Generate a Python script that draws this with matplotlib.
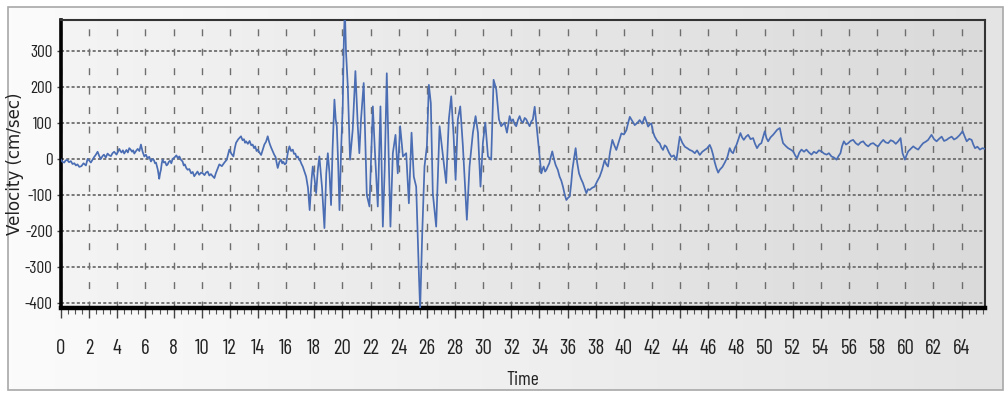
import numpy as np
import matplotlib
matplotlib.use("Agg")
import matplotlib.pyplot as plt
from matplotlib.colors import LinearSegmentedColormap
from matplotlib.patches import Rectangle
from matplotlib.ticker import MultipleLocator

# ---- data (time s, velocity cm/s) ----
pre_event = [
    (0.00, -2), (0.10, -8), (0.23, -10), (0.33, -4), (0.45, -3), (0.57, -9), (0.70, -6), (0.82, -14),
    (0.95, -12), (1.06, -18), (1.17, -15), (1.30, -22), (1.45, -20), (1.60, -12), (1.77, -18), (1.89, 0),
    (2.00, -4), (2.12, -10), (2.24, -2), (2.35, 5), (2.48, 12), (2.60, 20), (2.72, 8), (2.83, 0),
    (2.95, 8), (3.05, 12), (3.18, 4), (3.31, 15), (3.43, 10), (3.55, 8), (3.66, 16), (3.78, 20),
    (3.95, 12), (4.14, 28), (4.22, 22), (4.30, 18), (4.40, 24), (4.49, 15), (4.57, 20), (4.65, 25),
    (4.75, 18), (4.85, 30), (4.95, 26), (5.05, 20), (5.13, 24), (5.21, 15), (5.33, 22), (5.45, 28),
    (5.57, 22), (5.68, 40), (5.80, 20), (5.92, 7), (6.03, 12), (6.15, 2), (6.27, 6), (6.39, -7),
    (6.50, 0), (6.60, -3), (6.68, -12), (6.75, -10), (6.88, -30), (6.98, -55), (7.04, -40), (7.10, -30),
    (7.16, -12), (7.22, -2), (7.31, -10), (7.40, -8), (7.50, -18), (7.58, -15), (7.66, -8), (7.75, -5),
    (7.84, -12), (7.93, 0), (8.06, 4), (8.20, 10), (8.30, 2), (8.41, 7), (8.52, -2), (8.64, -7),
    (8.72, -18), (8.80, -15), (8.90, -25), (9.00, -30), (9.12, -28), (9.25, -40), (9.36, -36), (9.47, -48),
    (9.58, -42), (9.70, -35), (9.82, -44), (9.95, -38), (10.08, -40), (10.20, -45), (10.30, -38), (10.42, -35),
    (10.54, -46), (10.65, -42), (10.78, -48), (10.90, -53), (11.00, -40), (11.10, -30), (11.18, -22), (11.25, -15),
    (11.43, -20), (11.61, -10), (11.78, -2), (11.96, 26), (12.10, 15), (12.25, 7), (12.35, 30), (12.44, 45),
    (12.60, 55), (12.79, 63), (12.90, 52), (13.00, 55), (13.08, 45), (13.15, 49), (13.28, 42), (13.40, 50),
    (13.52, 38), (13.62, 40), (13.72, 30), (13.80, 35), (13.90, 22), (13.98, 26), (14.10, 18), (14.22, 11),
    (14.33, 25), (14.45, 40), (14.57, 48), (14.69, 63), (14.77, 50), (14.85, 40), (14.95, 30), (15.05, 21),
    (15.15, 12), (15.25, 5), (15.32, -10), (15.40, -25), (15.52, -8), (15.64, -2), (15.72, -12), (15.80, -8),
    (15.90, -15), (16.00, -12), (16.12, 18), (16.23, 35), (16.35, 22), (16.47, 26), (16.56, 14), (16.65, 15),
    (16.74, 4), (16.83, 7), (16.92, -2), (17.00, -5), (17.09, -14), (17.18, -21), (17.30, -35),
]
strong_motion = [
    (17.42, -49), (17.55, -80), (17.67, -142), (17.80, -60), (17.89, -21), (18.00, -50), (18.13, -95),
    (18.25, -30), (18.36, 7), (18.55, -80), (18.72, -192), (18.85, -40), (18.96, 16), (19.08, -40),
    (19.19, -128), (19.30, 30), (19.43, 165), (19.52, 110), (19.60, 91), (19.70, -20), (19.79, -142),
    (19.90, 20), (20.02, 146), (20.10, 330), (20.17, 420), (20.25, 300), (20.38, 202), (20.54, -2),
    (20.73, 82), (20.92, 244), (21.09, 91), (21.20, 16), (21.32, 110), (21.51, 211), (21.73, -100),
    (21.92, -132), (22.16, 146), (22.30, 26), (22.51, -132), (22.70, 146), (22.87, -188), (23.00, -30),
    (23.15, 238), (23.28, 16), (23.41, -188), (23.58, 16), (23.77, 67), (23.93, -40), (24.10, 91),
    (24.30, 7), (24.53, 16), (24.72, -123), (24.91, 73), (25.07, -49), (25.24, -77), (25.43, -317),
    (25.52, -419), (25.67, -206), (25.83, -21), (26.00, 35), (26.14, 206), (26.28, 155), (26.42, -95),
    (26.66, -188), (26.90, 91), (27.09, 26), (27.37, -67), (27.56, 110), (27.73, 174), (27.90, 63),
    (28.04, -58), (28.20, 110), (28.37, 146), (28.56, 35), (28.84, -169), (29.03, -21), (29.27, 73),
    (29.46, 119), (29.63, 73), (29.81, -77), (29.98, 45), (30.15, 101), (30.34, 7), (30.57, -2),
    (30.74, 220), (30.93, 193), (31.12, 110), (31.28, 91), (31.52, 101), (31.69, 73), (31.88, 119),
    (32.00, 104), (32.12, 110), (32.24, 96), (32.35, 91), (32.47, 108), (32.59, 119), (32.70, 106),
    (32.83, 101), (32.95, 114), (33.06, 110), (33.18, 100), (33.30, 91), (33.42, 104), (33.53, 110),
    (33.66, 145), (33.80, 90), (33.97, 25),
]
post_event = [
    (34.13, -40), (34.22, -28), (34.30, -21), (34.40, -35), (34.49, -30), (34.60, -20), (34.70, -12),
    (34.80, 5), (34.91, 21), (35.03, 0), (35.15, -17), (35.30, -30), (35.43, -49), (35.55, -60),
    (35.67, -77), (35.80, -100), (35.91, -114), (36.03, -108), (36.15, -104), (36.25, -70), (36.34, -30),
    (36.45, 0), (36.57, 30), (36.68, -10), (36.81, -40), (36.95, -55), (37.09, -67), (37.20, -80),
    (37.33, -95), (37.45, -84), (37.57, -86), (37.75, -80), (37.92, -77), (38.10, -62), (38.28, -49),
    (38.45, -30), (38.63, -3), (38.75, -15), (38.87, -21), (39.02, 20), (39.18, 53), (39.32, 38),
    (39.46, 25), (39.64, 48), (39.82, 71), (40.00, 68), (40.18, 80), (40.30, 100), (40.42, 117),
    (40.60, 105), (40.77, 94), (40.95, 100), (41.12, 108), (41.30, 98), (41.48, 117), (41.60, 104),
    (41.72, 90), (41.84, 96), (41.95, 99), (42.07, 75), (42.19, 62), (42.37, 50), (42.55, 43),
    (42.66, 32), (42.78, 25), (42.90, 38), (43.02, 34), (43.20, 18), (43.38, 6), (43.55, 10),
    (43.73, -3), (43.85, 30), (43.97, 62), (44.15, 45), (44.33, 34), (44.50, 30), (44.68, 25),
    (44.86, 22), (45.04, 16), (45.20, 24), (45.39, 11), (45.57, 20), (45.75, 25), (45.92, 30),
    (46.10, 39), (46.22, 28), (46.34, 11), (46.46, -10), (46.58, -26), (46.70, -38), (46.81, -30),
    (47.00, -22), (47.17, -10), (47.35, 5), (47.52, 30), (47.64, 20), (47.76, 16), (47.88, 30),
    (48.00, 39), (48.14, 55), (48.28, 72), (48.40, 60), (48.52, 53), (48.68, 62), (48.83, 67),
    (49.00, 55), (49.18, 58), (49.32, 42), (49.46, 30), (49.62, 40), (49.77, 44), (49.90, 62),
    (50.01, 77), (50.13, 58), (50.25, 49), (50.42, 60), (50.60, 67), (50.75, 74), (50.89, 81),
    (51.08, 86), (51.20, 62), (51.31, 44), (51.50, 36), (51.67, 30), (51.85, 26), (52.03, 21),
    (52.17, 10), (52.31, 2), (52.47, 18), (52.62, 26), (52.80, 20), (52.97, 26), (53.15, 18),
    (53.33, 12), (53.50, 20), (53.68, 16), (53.86, 24), (54.04, 21), (54.22, 15), (54.40, 12),
    (54.57, 16), (54.75, 7), (54.93, 4), (55.11, -2), (55.25, 8), (55.39, 16), (55.50, 35),
    (55.63, 49), (55.78, 40), (55.94, 44), (56.10, 50), (56.29, 53), (56.47, 44), (56.65, 39),
    (56.82, 46), (57.00, 49), (57.18, 40), (57.36, 35), (57.54, 42), (57.72, 44), (57.90, 38),
    (58.07, 35), (58.25, 45), (58.43, 53), (58.60, 46), (58.78, 44), (58.96, 52), (59.14, 49),
    (59.32, 42), (59.49, 49), (59.66, 58), (59.80, 16), (59.97, -2), (60.08, 10), (60.20, 21),
    (60.38, 28), (60.56, 35), (60.73, 30), (60.91, 26), (61.10, 36), (61.27, 44), (61.45, 48),
    (61.62, 53), (61.74, 60), (61.86, 67), (62.04, 55), (62.22, 49), (62.40, 56), (62.58, 62),
    (62.75, 50), (62.93, 53), (63.10, 58), (63.29, 62), (63.46, 54), (63.64, 58), (63.85, 66),
    (64.07, 77), (64.22, 62), (64.36, 49), (64.54, 56), (64.71, 53), (64.83, 40), (64.95, 30),
    (65.12, 34), (65.30, 26), (65.48, 30), (65.66, 28),
]
x_ticks = list(range(0, 65, 2))
y_ticks = [-400, -300, -200, -100, 0, 100, 200, 300]
x_label = 'Time'
y_label = 'Velocity (cm/sec)'

records = pre_event + strong_motion + post_event
time_s = [r[0] for r in records]
velocity = [r[1] for r in records]

plt.rcParams['lines.scale_dashes'] = False
plt.rcParams['axes.unicode_minus'] = False
narrow = ['Barlow Condensed', 'Archivo Narrow', 'Liberation Sans', 'DejaVu Sans']

W, H = 1005, 398
fig = plt.figure(figsize=(W / 100, H / 100), dpi=100)
fig.patch.set_facecolor('white')

# outer panel background with gradient
bg = fig.add_axes([0, 0, 1, 1], zorder=-5)
bg.set_xlim(0, W)
bg.set_ylim(H, 0)
bg.axis('off')
panel_cmap = LinearSegmentedColormap.from_list('p', ['#fbfbfb', '#e4e4e4'])
grad = np.linspace(0, 1, 256).reshape(1, -1)
bg.imshow(grad, extent=[8, 1003, 390, 7], cmap=panel_cmap, aspect='auto', zorder=0)
bg.add_patch(Rectangle((8, 7), 995, 383, fill=False, edgecolor='#a8a8a8', lw=1.2, zorder=1))

ax = fig.add_axes([61 / W, 1 - 308 / H, 924 / W, 288 / H])
xmin, xmax, ymin, ymax = 0, 65.66, -414, 386
ax.set_xlim(xmin, xmax)
ax.set_ylim(ymin, ymax)
plot_cmap = LinearSegmentedColormap.from_list('a', ['#f4f4f4', '#dadada'])
ax.imshow(grad, extent=[xmin, xmax, ymin, ymax], cmap=plot_cmap, aspect='auto', zorder=0)

# grid
for yt in y_ticks:
    ax.axhline(yt, color='#6e6e6e', lw=1.3, linestyle=(0, (2.2, 1.6)), zorder=1)
for xt in x_ticks:
    ax.axvline(xt, color='#6e6e6e', lw=1.0, linestyle=(0, (5.0, 9.0)), zorder=1)

ax.plot(time_s, velocity, color='#4a6db3', lw=1.25, zorder=3)

# spines
ax.spines['left'].set_linewidth(2.6)
ax.spines['bottom'].set_linewidth(3.2)
ax.spines['left'].set_color('black')
ax.spines['bottom'].set_color('black')
ax.spines['top'].set_linewidth(1.5)
ax.spines['right'].set_linewidth(1.5)
ax.spines['top'].set_color('#333333')
ax.spines['right'].set_color('#333333')

ax.set_xticks(x_ticks)
ax.set_yticks(y_ticks)
ax.xaxis.set_minor_locator(MultipleLocator(0.5))
ax.tick_params(axis='x', which='major', length=7, width=1.0, pad=15, labelsize=15, color='#444444')
ax.tick_params(axis='x', which='minor', length=4, width=0.8, color='#555555')
ax.tick_params(axis='y', which='major', length=3, width=1.0, pad=3, labelsize=12.5, color='#444444')
for lab in ax.get_xticklabels() + ax.get_yticklabels():
    lab.set_family(narrow)
    lab.set_color('#222222')

ax.set_xlabel(x_label, family=narrow, fontsize=14, color='#222222', labelpad=10)
ax.set_ylabel(y_label, family=['DejaVu Sans'], fontsize=12, color='#222222')
ax.yaxis.set_label_coords(-0.0405, 0.5)

fig.savefig('out.png', dpi=100)
